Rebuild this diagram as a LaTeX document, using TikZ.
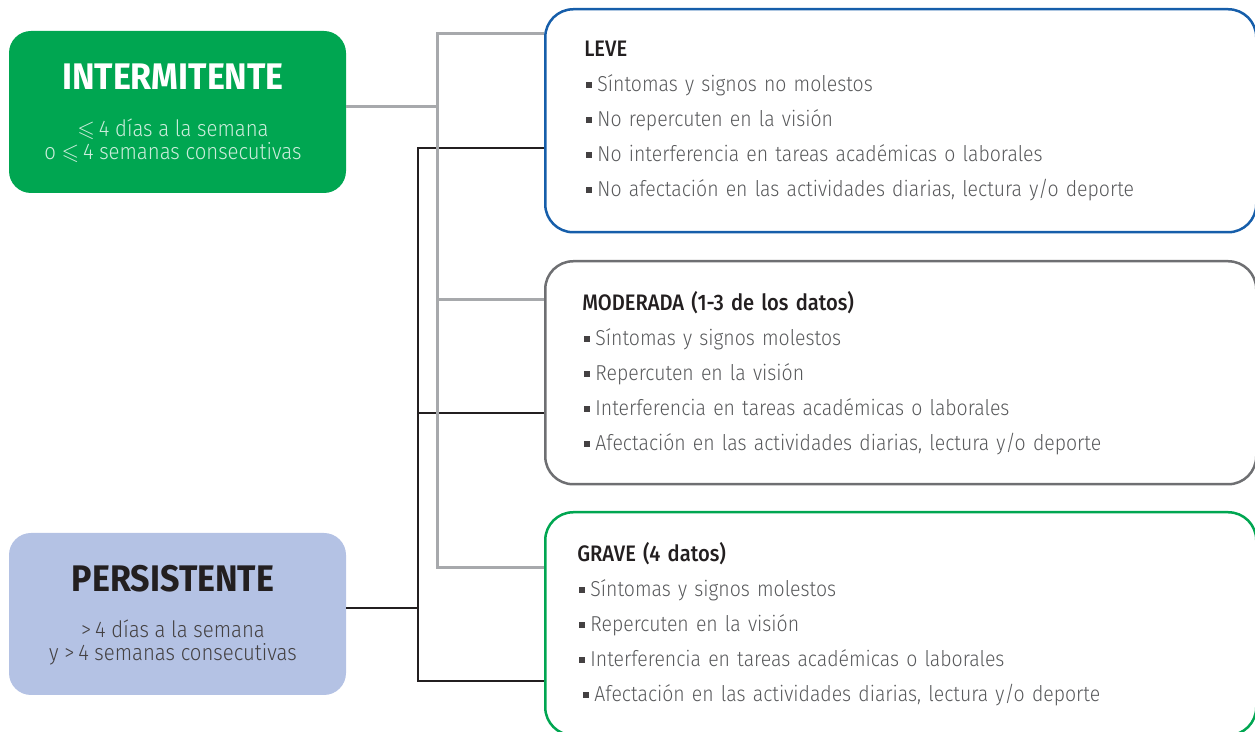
\documentclass[tikz,border=0pt]{standalone}
\usepackage{fontspec}
\usepackage{amssymb}
\setmainfont{Fira Sans}[FakeStretch=0.9]
\newfontfamily\lightfont{Fira Sans Light}[FakeStretch=0.9]
\newfontfamily\medfont{Fira Sans Medium}[FakeStretch=0.9]
\newfontfamily\titlefont{Fira Sans Bold}[FakeStretch=0.92]
\usetikzlibrary{calc}

\definecolor{intgreen}{RGB}{0,166,81}
\definecolor{perblue}{RGB}{180,194,228}
\definecolor{leveblue}{RGB}{22,94,170}
\definecolor{modgray}{RGB}{110,111,114}
\definecolor{linegray}{RGB}{167,169,172}
\definecolor{inkblack}{RGB}{35,31,32}
\definecolor{bodygray}{RGB}{88,89,91}

\newcommand{\sqbul}{\textcolor{inkblack!85}{\rule[0.16em]{0.27em}{0.27em}}\hspace{0.25em}}
\newcommand{\sevhead}{\medfont\color{inkblack}\fontsize{11.2}{17.5}\selectfont}

\begin{document}
\begin{tikzpicture}[x=0.5pt,y=-0.5pt,
  catbox/.style={fill=#1, rounded corners=11pt, minimum width=168.5pt, minimum height=81pt, inner sep=0pt},
  cattitle/.style={text=#1, inner sep=0pt, font=\titlefont\fontsize{18.5}{20}\selectfont},
  catsub/.style={text=#1, inner sep=0pt, align=center, font=\lightfont\fontsize{11.3}{11.5}\selectfont},
  sevbox/.style 2 args={draw=#1, line width=1.25pt, rounded corners=14pt, minimum width=355.5pt, minimum height=111.5pt,
    inner xsep=0pt, text width=#2, align=left, text=bodygray, font=\lightfont\fontsize{10.8}{17.5}\selectfont},
  grayline/.style={draw=linegray, line width=1.5pt},
  blackline/.style={draw=inkblack, line width=1.4pt}]
  %%%%% START %%%%%
  \useasboundingbox (0,0) rectangle (1255,732);

  % left categories
  \node[catbox=intgreen] (inter) at (177.5,112) {};
  \node[cattitle=white, anchor=base] (intname) at (173,90) {INTERMITENTE};
  \node[catsub=white!80!intgreen, anchor=base] (intdesc) at (173,160)
    {\ensuremath{\leqslant}\,4 días a la semana\\o \ensuremath{\leqslant}\,4 semanas consecutivas};

  \node[catbox=perblue] (persist) at (177.5,614) {};
  \node[cattitle=inkblack, anchor=base] (pername) at (173,592) {PERSISTENTE};
  \node[catsub=inkblack!85, anchor=base] (perdesc) at (173,661)
    {>\,4 días a la semana\\y >\,4 semanas consecutivas};

  % severity boxes
  \node[sevbox={leveblue}{316.5pt}, anchor=north west] (leve) at (544,8)
    {{\sevhead LEVE}\\
     \hspace*{1pt}\sqbul Síntomas y signos no molestos\\
     \hspace*{1pt}\sqbul No repercuten en la visión\\
     \hspace*{1pt}\sqbul No interferencia en tareas académicas o laborales\\
     \hspace*{1pt}\sqbul No afectación en las actividades diarias, lectura y/o deporte};
  \node[sevbox={modgray}{318.5pt}, anchor=north west] (moder) at (544,260)
    {{\sevhead MODERADA (1-3 de los datos)}\\
     \hspace*{1pt}\sqbul Síntomas y signos molestos\\
     \hspace*{1pt}\sqbul Repercuten en la visión\\
     \hspace*{1pt}\sqbul Interferencia en tareas académicas o laborales\\
     \hspace*{1pt}\sqbul Afectación en las actividades diarias, lectura y/o deporte};
  \node[sevbox={intgreen}{323.5pt}, anchor=north west] (grave) at (544,511)
    {{\sevhead GRAVE (4 datos)}\\
     \hspace*{1pt}\sqbul Síntomas y signos molestos\\
     \hspace*{1pt}\sqbul Repercuten en la visión\\
     \hspace*{1pt}\sqbul Interferencia en tareas académicas o laborales\\
     \hspace*{3pt}\sqbul Afectación en las actividades diarias, lectura y/o deporte};

  % connectors
  \coordinate (ktop) at (418,148);
  \coordinate (kmid) at (418,413);
  \coordinate (kbot) at (418,681);
  \draw[blackline] ([yshift=3pt]persist.east) -- ([yshift=3pt]persist.east -| kmid);
  \draw[blackline] (leve.west |- ktop) -- (ktop) -- (kbot) -- (grave.west |- kbot);
  \draw[blackline] (kmid) -- (moder.west |- kmid);

  \coordinate (gtop) at (437,34);
  \coordinate (gmid) at (437,300);
  \coordinate (gbot) at (437,568);
  \draw[grayline] ([yshift=2.5pt]inter.east) -- ([yshift=2.5pt]inter.east -| gtop);
  \draw[grayline] (leve.west |- gtop) -- (gtop) -- (gbot) -- (grave.west |- gbot);
  \draw[grayline] (gmid) -- (moder.west |- gmid);
  %%%%% END %%%%%
\end{tikzpicture}
\end{document}
